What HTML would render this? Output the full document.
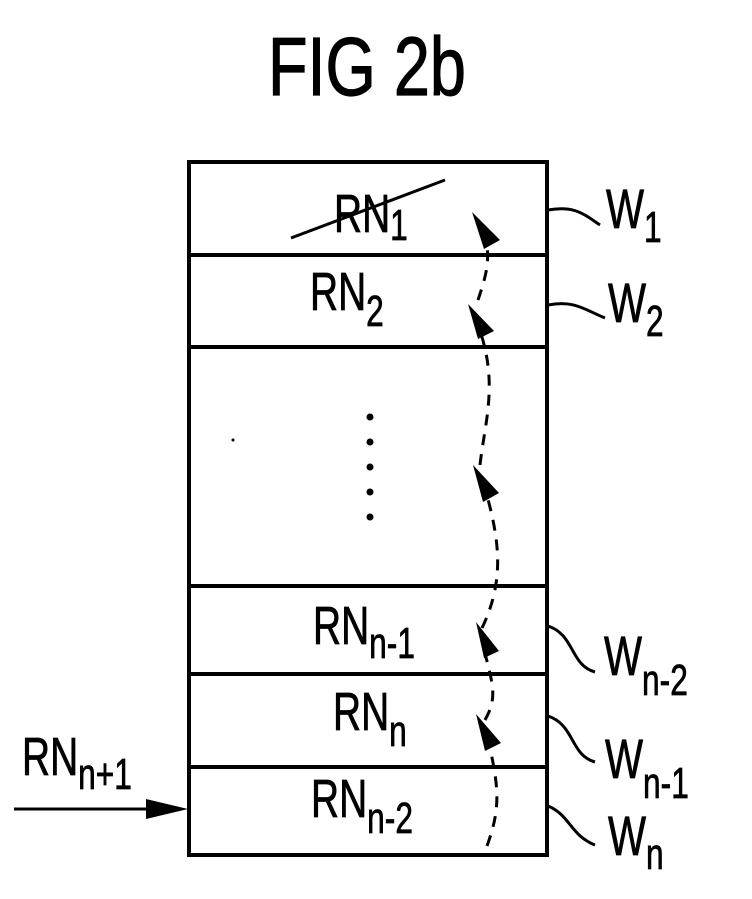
<!DOCTYPE html>
<html><head><style>body{margin:0;background:#fff}svg{display:block}</style></head>
<body>
<svg width="752" height="899" viewBox="0 0 752 899" xmlns="http://www.w3.org/2000/svg" font-family="Liberation Sans, sans-serif">
<g fill="#000" stroke="#000" stroke-width="1.2">
<g transform="translate(268 95) scale(0.78 1)"><text font-size="83">FIG 2b</text></g>
</g>
<g stroke="#000" stroke-width="4" fill="none">
<rect x="189" y="162" width="358" height="693"/>
<line x1="189" y1="255" x2="547" y2="255"/>
<line x1="189" y1="347" x2="547" y2="347"/>
<line x1="189" y1="586" x2="547" y2="586"/>
<line x1="189" y1="674" x2="547" y2="674"/>
<line x1="189" y1="767" x2="547" y2="767"/>
</g>
<g stroke="#000" stroke-width="3" fill="none">
<line x1="291" y1="238" x2="445" y2="180"/>
<path d="M548 210 C575 205 585 215 600 225"/>
<path d="M548 305 C575 300 585 310 605 318"/>
<path d="M548 626 C575 635 570 665 595 672"/>
<path d="M548 716 C575 725 570 755 595 762"/>
<path d="M548 806 C570 815 570 835 595 845"/>
<line x1="14" y1="809" x2="165" y2="809"/>
</g>
<path d="M487 846 C500 810 500 790 488 740 M485 720 C496 700 495 690 484 650 M482 628 C505 580 500 540 484 485 M480 465 C485 420 500 380 476 320 M478 300 C488 270 490 260 485 230" stroke="#000" stroke-width="3" fill="none" stroke-dasharray="11 9"/>
<g fill="#000">
<polygon points="146,799 188,809 146,819"/>
<polygon points="472,212 500,240 484,249"/>
<polygon points="468,304 494,331 478,339"/>
<polygon points="473,465 499,493 483,502"/>
<polygon points="476,622 499,651 484,658"/>
<polygon points="476,714 501,743 485,751"/>
<circle cx="370" cy="417" r="3.5"/><circle cx="370" cy="442" r="3.5"/><circle cx="370" cy="467" r="3.5"/><circle cx="370" cy="492" r="3.5"/><circle cx="370" cy="517" r="3.5"/>
<circle cx="233" cy="440" r="1.5"/>
</g>
<g fill="#000" stroke="#000" stroke-width="0.8">
<g transform="translate(334 232) scale(0.72 1)"><text font-size="54">RN<tspan font-size="44" dy="8">1</tspan></text></g>
<g transform="translate(310 310) scale(0.72 1)"><text font-size="54">RN<tspan font-size="44" dy="16">2</tspan></text></g>
<g transform="translate(313 644) scale(0.72 1)"><text font-size="54">RN<tspan font-size="44" dy="14">n-1</tspan></text></g>
<g transform="translate(333 730) scale(0.72 1)"><text font-size="54">RN<tspan font-size="44" dy="16">n</tspan></text></g>
<g transform="translate(311 817) scale(0.72 1)"><text font-size="54">RN<tspan font-size="44" dy="16">n-2</tspan></text></g>
<g transform="translate(22 775) scale(0.72 1)"><text font-size="54">RN<tspan font-size="44" dy="14">n+1</tspan></text></g>
<g transform="translate(606 228) scale(0.72 1)"><text font-size="56">W<tspan font-size="44" dy="14">1</tspan></text></g>
<g transform="translate(608 322) scale(0.72 1)"><text font-size="56">W<tspan font-size="44" dy="14">2</tspan></text></g>
<g transform="translate(604 675) scale(0.72 1)"><text font-size="56">W<tspan font-size="44" dy="20">n-2</tspan></text></g>
<g transform="translate(605 778) scale(0.72 1)"><text font-size="56">W<tspan font-size="44" dy="20">n-1</tspan></text></g>
<g transform="translate(608 855) scale(0.72 1)"><text font-size="56">W<tspan font-size="44" dy="14">n</tspan></text></g>
</g>
</svg>
</body></html>
